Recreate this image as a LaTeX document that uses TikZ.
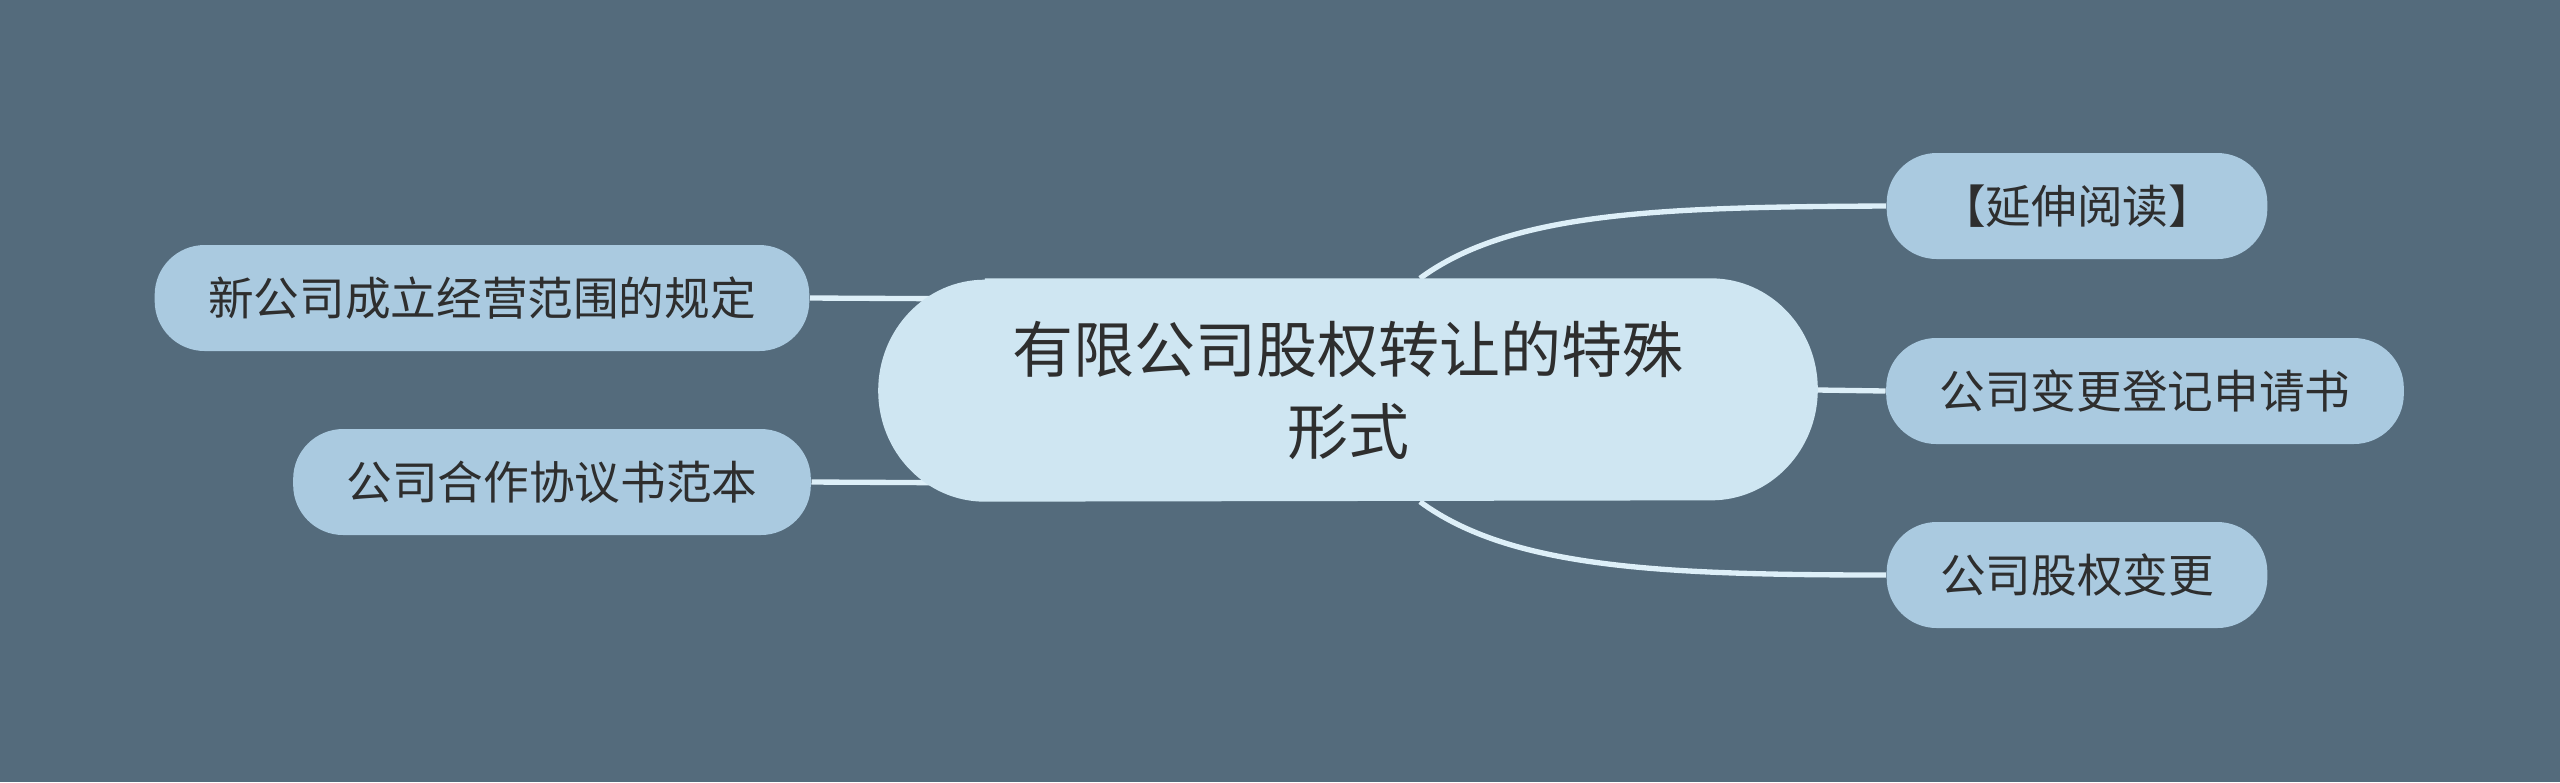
\documentclass[tikz,border=0pt]{standalone}
\usepackage{fontspec}
\setmainfont{Noto Sans CJK SC}
\usetikzlibrary{calc}
\definecolor{bgcol}{HTML}{546B7C}
\definecolor{rootcol}{HTML}{CFE6F2}
\definecolor{leafcol}{HTML}{AACAE0}
\definecolor{linkcol}{HTML}{DDEFF8}
\definecolor{txtcol}{HTML}{2E2E2E}
\pgfdeclarelayer{back}
\pgfdeclarelayer{edges}
\pgfsetlayers{back,edges,main}
\tikzset{
	leaf/.style={fill=leafcol, text=txtcol, rounded corners=15pt, minimum height=31.8pt, inner xsep=16pt, inner ysep=0pt, font=\fontsize{13.7}{16}\selectfont},
	link/.style={draw=linkcol, line width=1.6pt}
}
\begin{document}
\begin{tikzpicture}[x=0.3pt,y=-0.3pt]
			\useasboundingbox (0,0) rectangle (2560,782);
			\begin{pgfonlayer}{back}
				\fill [bgcol] (0,0) rectangle (2560,782);
			\end{pgfonlayer}
			% root
			\node [minimum width=281.7pt, minimum height=66.6pt, text=txtcol, align=center, font=\fontsize{18.3}{24.6}\selectfont] (root) at (1348,390) {有限公司股权转让的特殊\\形式};
			\begin{pgfonlayer}{edges}
				\fill [rootcol] ($(root.north west)+(107,0)$) -- ($(root.north east)+(-107,0)$) arc [start angle=90, end angle=-90, x radius=32pt, y radius=33.3pt] -- ($(root.south west)+(107,0)$) arc [start angle=270, end angle=90, x radius=32pt, y radius=33.3pt] -- cycle;
			\end{pgfonlayer}
			% leaves
			\node [leaf] (read) at (2077,206) {【延伸阅读】};
			\node [leaf] (apply) at (2145,391) {公司变更登记申请书};
			\node [leaf] (equity) at (2077,575) {公司股权变更};
			\node [leaf] (scope) at (482,298) {新公司成立经营范围的规定};
			\node [leaf] (deal) at (552,482) {公司合作协议书范本};
			% links
			\begin{pgfonlayer}{back}
				\draw [link] ($(root.north)+(72,0)$) .. controls (1510,212) and (1660,207) .. (read.west);
				\draw [link] ($(root.south)+(72,0)$) .. controls (1510,568) and (1660,575) .. (equity.west);
				\draw [link] (root.east) -- (apply.west);
				\draw [link] (scope.east) -- ($(root.west)+(120,-91)$);
				\draw [link] (deal.east) -- ($(root.west)+(120,93)$);
			\end{pgfonlayer}
		\end{tikzpicture}
\end{document}
